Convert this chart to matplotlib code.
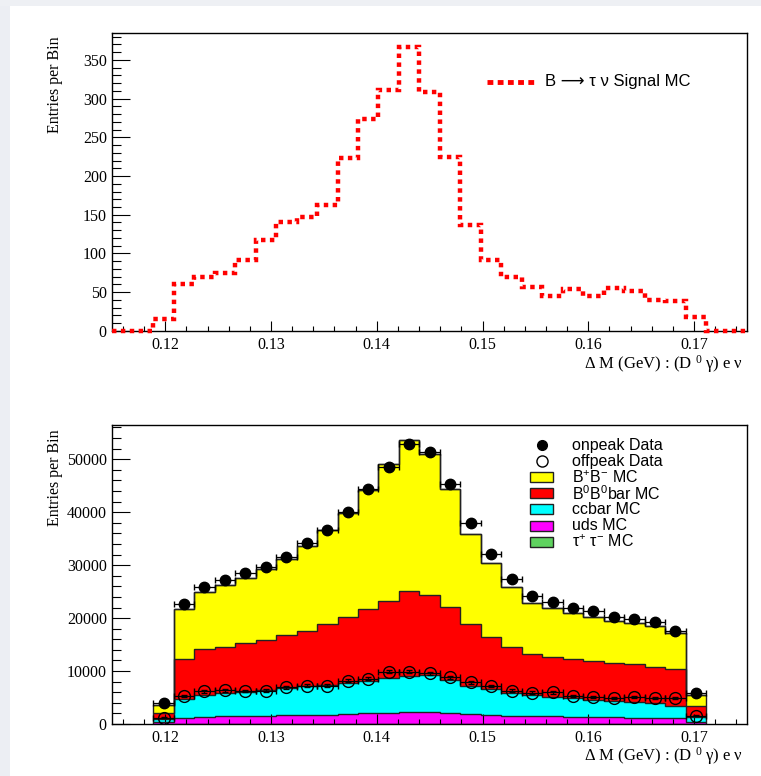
import numpy as np
import matplotlib.pyplot as plt
from matplotlib.patches import Rectangle
from matplotlib.ticker import MultipleLocator

plt.rcParams['font.family'] = ['Liberation Serif', 'DejaVu Serif']
plt.rcParams['mathtext.default'] = 'regular'
SANS = ['Liberation Sans', 'DejaVu Sans']

# binning of the Delta M histograms
x_lo, x_hi, n_bins = 0.115, 0.175, 31

# signal MC, all 31 bins
signal_mc = [0, 0, 16, 60, 70, 75, 92, 117, 140, 147, 163, 223, 274, 311, 367,
             309, 225, 137, 92, 70, 57, 45, 54, 45, 55, 51, 40, 39, 18, 0, 0]

# background MC stack and data, bins 2..28 (the rest are empty)
first_bin = 2
bpbm_mc = [1450, 9435, 10755, 11575, 12325, 13270, 14275, 15975, 17675, 19750,
           22515, 25910, 28555, 26730, 22200, 17170, 13960, 11320, 9750, 9120,
           8615, 8240, 7860, 7735, 7735, 6730, 2075]
b0b0_mc = [1260, 7420, 8615, 8805, 9180, 9495, 10060, 10440, 11570, 12455,
           13585, 14590, 15975, 15095, 13835, 11570, 9810, 8805, 7735, 7545,
           7420, 7360, 7170, 7045, 6920, 6920, 2140]
ccbar_mc = [440, 3585, 4090, 4340, 4530, 4845, 5095, 5470, 5535, 5785,
            6165, 6480, 6795, 7045, 6165, 5345, 4970, 4215, 3900, 3710,
            3460, 3205, 3145, 3020, 2765, 2390, 820]
uds_mc = [410, 1115, 1300, 1365, 1430, 1490, 1555, 1620, 1680, 1805,
          1935, 2060, 2185, 2120, 2060, 1805, 1620, 1490, 1430, 1365,
          1305, 1240, 1180, 1115, 1050, 990, 410]
tautau_mc = [30, 80, 80, 80, 80, 80, 80, 80, 80, 80,
             80, 80, 80, 80, 80, 80, 80, 80, 80, 80,
             80, 80, 80, 80, 80, 80, 30]
onpeak = [4000, 22580, 25910, 27110, 28490, 29690, 31570, 34210, 36600, 39940,
          44340, 48550, 52830, 51380, 45410, 38050, 32010, 27360, 24210, 23080,
          21950, 21320, 20250, 19810, 19310, 17610, 5790]
offpeak = [1195, 5350, 6160, 6350, 6230, 6290, 6920, 7230, 7230, 8180,
           8550, 9870, 9870, 9600, 8800, 7860, 7170, 6290, 5910, 5980,
           5350, 5030, 4840, 5160, 4970, 4840, 1570]
offpeak_scale = 9.0

edges = np.linspace(x_lo, x_hi, n_bins + 1)
bw = edges[1] - edges[0]

fig = plt.figure(figsize=(7.61, 7.76), dpi=100)
fig.patch.set_facecolor('white')
fig.patches.append(Rectangle((0, 0), 10 / 761, 1, transform=fig.transFigure,
                             facecolor='#eceef3', edgecolor='none', zorder=-5))
fig.patches.append(Rectangle((0, 1 - 6 / 776), 1, 6 / 776, transform=fig.transFigure,
                             facecolor='#eef0f4', edgecolor='none', zorder=-5))

ax1 = fig.add_axes([0.1476, 0.5735, 0.834, 0.3844])
ax2 = fig.add_axes([0.1476, 0.0670, 0.834, 0.3849])

XLABEL = 'Δ M (GeV) : (D $^{0}$ γ) e ν'


def style_axis(ax, ymajor, yminor):
    ax.set_xlim(x_lo, x_hi)
    ax.xaxis.set_major_locator(MultipleLocator(0.01))
    ax.xaxis.set_minor_locator(MultipleLocator(0.002))
    ax.yaxis.set_major_locator(MultipleLocator(ymajor))
    ax.yaxis.set_minor_locator(MultipleLocator(yminor))
    ax.tick_params(axis='both', which='both', direction='in', width=0.8,
                   labelsize=11.5, top=False, right=False)
    ax.tick_params(axis='x', which='major', length=7.5, pad=4)
    ax.tick_params(axis='x', which='minor', length=3.8)
    ax.tick_params(axis='y', which='major', length=13, pad=4)
    ax.tick_params(axis='y', which='minor', length=6.5)
    for s in ax.spines.values():
        s.set_linewidth(1.0)
    ax.set_ylabel('Entries per Bin', fontsize=11.5, loc='top')
    ax.yaxis.set_label_coords(-0.078, 0.988)


# signal MC, dotted red outline
ax1.stairs(signal_mc, edges, color='red', linewidth=3.2,
           linestyle=(0, (1, 1)), zorder=3, clip_on=False)
ax1.set_ylim(0, 385)
style_axis(ax1, 50, 10)
ax1.text(0.9937, -0.128, XLABEL, transform=ax1.transAxes,
         ha='right', va='baseline', fontsize=12)
ax1.plot([0.5899, 0.6712], [0.8357, 0.8357], transform=ax1.transAxes,
         color='red', linewidth=3.5, linestyle=(0, (1.2, 0.9)))
ax1.text(0.6817, 0.8357, 'B ⟶ τ ν Signal MC', transform=ax1.transAxes,
         ha='left', va='center', fontsize=12, family=SANS)

# stacked background MC
e2 = edges[first_bin:first_bin + len(onpeak) + 1]
centers = 0.5 * (e2[:-1] + e2[1:])
layers = [(tautau_mc, '#5fd35f'), (uds_mc, '#ff00ff'), (ccbar_mc, '#00ffff'),
          (b0b0_mc, '#ff0000'), (bpbm_mc, '#ffff00')]
base = np.zeros(len(onpeak))
for vals, col in layers:
    top = base + np.array(vals)
    ax2.stairs(top, e2, baseline=base, fill=True, color=col, zorder=1)
    ax2.stairs(top, e2, baseline=None, color='#222222', linewidth=1.0, zorder=2)
    base = top
ax2.stairs(base, e2, baseline=0, color='#222222', linewidth=1.0, zorder=2)

on = np.array(onpeak)
off = np.array(offpeak)
ax2.errorbar(centers, off, xerr=bw / 2, yerr=np.sqrt(off * offpeak_scale),
             fmt='o', mfc='none', mec='black', mew=1.0, ms=8.5,
             ecolor='black', elinewidth=0.9, capsize=2, zorder=4)
ax2.errorbar(centers, on, xerr=bw / 2, yerr=np.sqrt(on),
             fmt='o', mfc='black', mec='black', ms=7.5,
             ecolor='black', elinewidth=0.9, capsize=2, zorder=5)
ax2.set_ylim(0, 56400)
style_axis(ax2, 10000, 2000)
ax2.text(0.9937, -0.122, XLABEL, transform=ax2.transAxes,
         ha='right', va='baseline', fontsize=12)

# legend for the lower panel
leg_labels = ['onpeak Data', 'offpeak Data', 'B$^{+}$B$^{-}$ MC',
              'B$^{0}$B$^{0}$bar MC', 'ccbar MC', 'uds MC', 'τ$^{+}$ τ$^{-}$ MC']
leg_fill = [None, None, '#ffff00', '#ff0000', '#00ffff', '#ff00ff', '#5fd35f']
y0, dy = 0.934, 16.1 / 298.7
for i, (lab, col) in enumerate(zip(leg_labels, leg_fill)):
    y = y0 - i * dy
    if i == 0:
        ax2.plot([0.6765], [y], 'o', color='black', ms=7, transform=ax2.transAxes)
    elif i == 1:
        ax2.plot([0.6765], [y], 'o', mfc='none', mec='black', ms=8, mew=1.0,
                 transform=ax2.transAxes)
    else:
        ax2.add_patch(Rectangle((0.6584, y - 0.0168), 0.0362, 0.0335,
                                transform=ax2.transAxes, facecolor=col,
                                edgecolor='#222222', linewidth=1.0, zorder=6))
    ax2.text(0.7243, y, lab, transform=ax2.transAxes, ha='left', va='center',
             fontsize=11.5, family=SANS, zorder=6)

fig.savefig('out.png', dpi=100)
